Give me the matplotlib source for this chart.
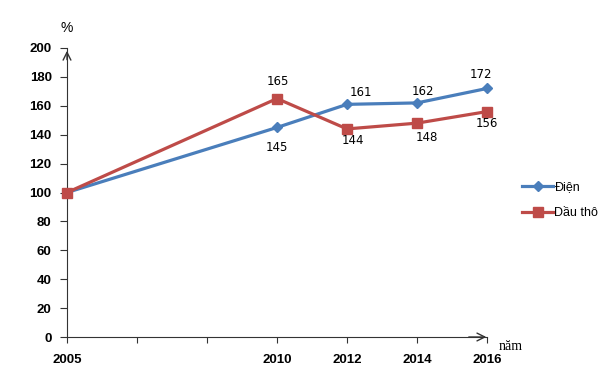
import matplotlib
matplotlib.use("Agg")
import matplotlib.pyplot as plt

# data
years = ['2005', '', '', '2010', '2012', '2014', '2016']
pos = [0, 3, 4, 5, 6]          # slots of the real years on the category axis
dien = [100, 145, 161, 162, 172]
dau_tho = [100, 165, 144, 148, 156]

# label offsets in pixels (dx, dy), none for 2005
dien_off = [None, (0, -20), (14, 12), (6, 11), (-6, 14)]
dau_off = [None, (1, 17), (6, -12), (10, -14), (0, -12)]

blue = '#4a7ebb'
red = '#be4b48'

fig = plt.figure(figsize=(6.09, 3.79), dpi=100)
ax = fig.add_axes([67/609, 42/379, 420/609, 289/379])

ax.plot(pos, dien, color=blue, lw=2.3, marker='D', ms=5.5, label='Điện', clip_on=False, zorder=3)
ax.plot(pos, dau_tho, color=red, lw=2.3, marker='s', ms=7, label='Dầu thô', clip_on=False, zorder=3)

for x, v, off in zip(pos, dien, dien_off):
    if off:
        ax.annotate(str(v), (x, v), xytext=off, textcoords='offset pixels',
                    ha='center', va='center', fontsize=8.5, family='DejaVu Sans')
for x, v, off in zip(pos, dau_tho, dau_off):
    if off:
        ax.annotate(str(v), (x, v), xytext=off, textcoords='offset pixels',
                    ha='center', va='center', fontsize=8.5, family='DejaVu Sans')

ax.set_xlim(0, 6)
ax.set_ylim(0, 200)
ax.set_xticks(range(len(years)))
ax.set_xticklabels(years)
ax.set_yticks(range(0, 201, 20))
for s in ['top', 'right']:
    ax.spines[s].set_visible(False)
for s in ['left', 'bottom']:
    ax.spines[s].set_color('#333333')
ax.tick_params(axis='x', length=4, pad=8, color='#333333')
ax.tick_params(axis='y', length=5, pad=6, color='#333333')
for t in ax.get_xticklabels() + ax.get_yticklabels():
    t.set_fontweight('bold')
    t.set_fontsize(9.5)
    t.set_family('Liberation Sans')

# arrows on axes
ax.annotate('', xy=(1.005, 0), xytext=(0.95, 0), xycoords='axes fraction',
            arrowprops=dict(arrowstyle='->', color='#333333', lw=1, mutation_scale=14))
ax.annotate('', xy=(0, 1.0), xytext=(0, 0.95), xycoords='axes fraction',
            arrowprops=dict(arrowstyle='->', color='#333333', lw=1, mutation_scale=14))

fig.text(67/609, 1 - 28/379, '%', fontsize=10, ha='center', va='center', family='Liberation Sans')
fig.text(499/609, 1 - 346/379, 'năm', fontsize=10, ha='left', va='center', family='Liberation Serif')

ax.legend(loc='center left', bbox_to_anchor=(517/609, 1 - 200/379), bbox_transform=fig.transFigure,
          frameon=False, handlelength=2.5, handletextpad=0.1, labelspacing=1.1,
          borderaxespad=0, prop={'family': 'Liberation Sans', 'size': 9})

fig.savefig('out.png', dpi=100)
